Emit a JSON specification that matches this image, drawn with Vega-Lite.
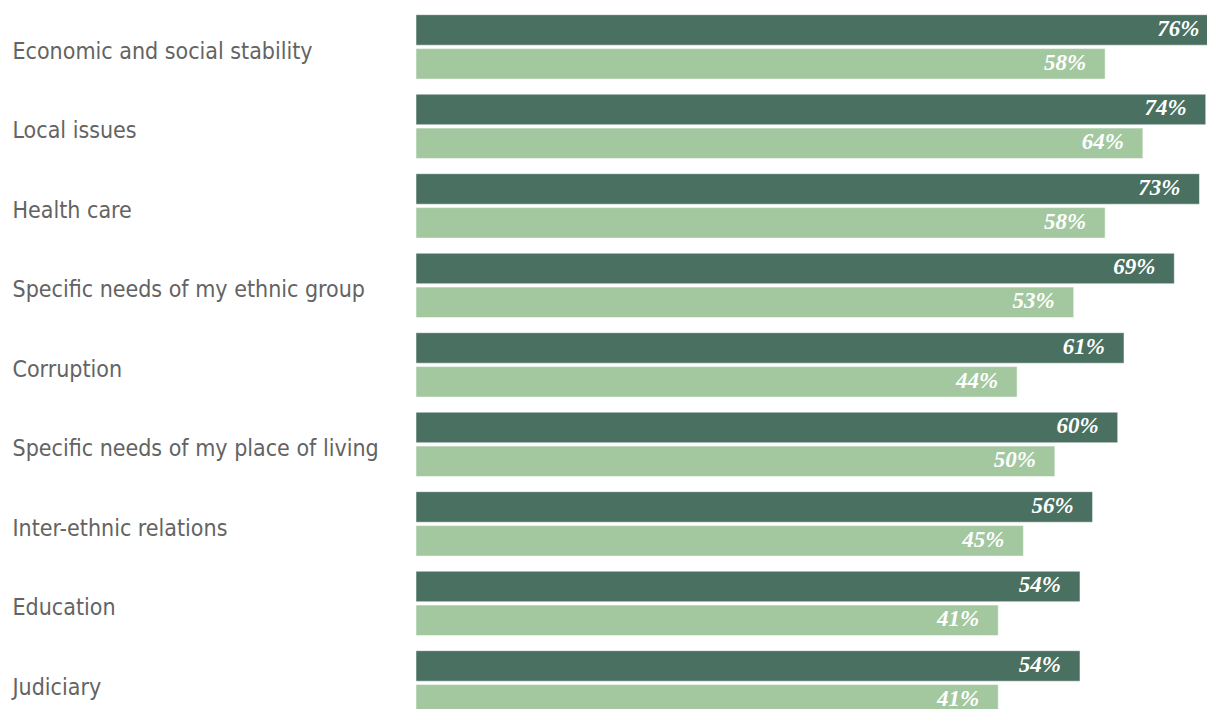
{
  "$schema": "https://vega.github.io/schema/vega-lite/v6.json",
  "width": 791,
  "height": 709,
  "autosize": {"type": "none"},
  "padding": {"left": 416, "top": 0, "right": 0, "bottom": 0},
  "background": "#ffffff",
  "config": {"view": {"stroke": null}},
  "data": {
    "values": [
      {"topic": "Economic and social stability", "series": "A", "value": 76},
      {"topic": "Economic and social stability", "series": "B", "value": 58},
      {"topic": "Local issues", "series": "A", "value": 74},
      {"topic": "Local issues", "series": "B", "value": 64},
      {"topic": "Health care", "series": "A", "value": 73},
      {"topic": "Health care", "series": "B", "value": 58},
      {"topic": "Specific needs of my ethnic group", "series": "A", "value": 69},
      {"topic": "Specific needs of my ethnic group", "series": "B", "value": 53},
      {"topic": "Corruption", "series": "A", "value": 61},
      {"topic": "Corruption", "series": "B", "value": 44},
      {"topic": "Specific needs of my place of living", "series": "A", "value": 60},
      {"topic": "Specific needs of my place of living", "series": "B", "value": 50},
      {"topic": "Inter-ethnic relations", "series": "A", "value": 56},
      {"topic": "Inter-ethnic relations", "series": "B", "value": 45},
      {"topic": "Education", "series": "A", "value": 54},
      {"topic": "Education", "series": "B", "value": 41},
      {"topic": "Judiciary", "series": "A", "value": 54},
      {"topic": "Judiciary", "series": "B", "value": 41}
    ]
  },
  "transform": [{"calculate": "datum.value + '%'", "as": "label"}],
  "encoding": {
    "y": {
      "field": "topic",
      "type": "nominal",
      "sort": null,
      "scale": {"range": [14.7, 715.1], "paddingInner": 0.19, "paddingOuter": 0},
      "axis": {
        "title": null,
        "domain": false,
        "ticks": false,
        "labelAlign": "left",
        "labelBaseline": "middle",
        "labelPadding": 404,
        "labelFont": "DejaVu Sans Condensed",
        "labelFontSize": 23,
        "labelFontWeight": "normal",
        "labelColor": "#636363",
        "labelOffset": 5,
        "labelLimit": 0
      }
    },
    "yOffset": {
      "field": "series",
      "type": "nominal",
      "sort": null,
      "scale": {"paddingInner": 0.1, "paddingOuter": 0}
    }
  },
  "layer": [
    {
      "mark": {"type": "bar", "clip": true, "stroke": "#ffffff", "strokeWidth": 1, "strokeOpacity": 0.5},
      "encoding": {
        "x": {
          "field": "value",
          "type": "quantitative",
          "scale": {"domain": [-51.6, 74.2], "zero": false, "nice": false},
          "axis": null
        },
        "x2": {"datum": -51.6},
        "color": {
          "field": "series",
          "type": "nominal",
          "scale": {"domain": ["A", "B"], "range": ["#497060", "#a3c8a0"]},
          "legend": null
        }
      }
    },
    {
      "mark": {
        "type": "text",
        "clip": true,
        "align": "right",
        "baseline": "middle",
        "dx": -19,
        "dy": -1,
        "font": "Liberation Serif",
        "fontSize": 23,
        "fontWeight": "bold",
        "fontStyle": "italic",
        "color": "#ffffff"
      },
      "encoding": {
        "x": {"field": "value", "type": "quantitative"},
        "text": {"field": "label", "type": "nominal"}
      }
    }
  ]
}
